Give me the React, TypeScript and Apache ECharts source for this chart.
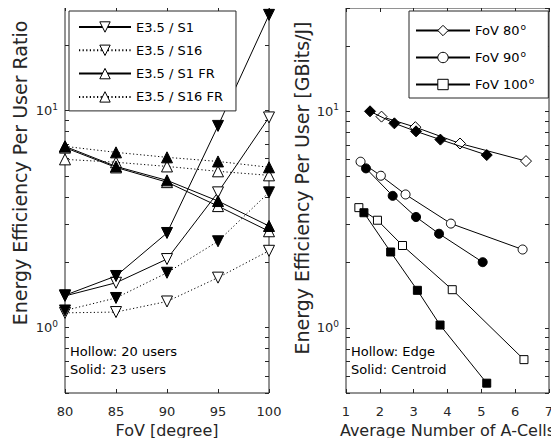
import React, { useEffect, useRef } from 'react';
import * as echarts from 'echarts';

// ---- Left panel data (FoV in degrees) ----
const fovX = [80, 85, 90, 95, 100];
const s1Hollow = [1.40, 1.61, 2.07, 4.2, 9.3];
const s1Solid = [1.41, 1.73, 2.73, 8.5, 27.6];
const s16Hollow = [1.17, 1.18, 1.32, 1.70, 2.26];
const s16Solid = [1.20, 1.37, 1.79, 2.50, 4.2];
const s1frHollow = [6.75, 5.47, 4.68, 3.63, 2.78];
const s1frSolid = [6.84, 5.53, 4.77, 3.83, 2.94];
const s16frHollow = [5.96, 5.78, 5.53, 5.25, 5.03];
const s16frSolid = [6.84, 6.42, 6.09, 5.83, 5.48];

// ---- Right panel data (average number of A-cells) ----
const f80HollowX = [2.05, 3.05, 4.37, 6.32];
const f80HollowY = [9.45, 8.45, 7.1, 5.89];
const f80SolidX = [1.71, 2.43, 3.07, 3.79, 5.16];
const f80SolidY = [10.0, 8.8, 8.08, 7.4, 6.28];
const f90HollowX = [1.43, 2.03, 2.76, 4.10, 6.22];
const f90HollowY = [5.85, 5.04, 4.13, 3.03, 2.30];
const f90SolidX = [1.59, 2.38, 3.07, 3.75, 5.04];
const f90SolidY = [5.45, 4.07, 3.25, 2.72, 2.01];
const f100HollowX = [1.38, 1.93, 2.67, 4.14, 6.26];
const f100HollowY = [3.59, 3.14, 2.40, 1.50, 0.713];
const f100SolidX = [1.53, 2.32, 3.11, 3.78, 5.16];
const f100SolidY = [3.40, 2.24, 1.49, 1.03, 0.555];

// ---- Ticks ----
const logTicks = [0.5, 0.6, 0.7, 0.8, 0.9, 1, 2, 3, 4, 5, 6, 7, 8, 9, 10, 20, 30];
const logLabels = [1, 10];
const leftLegend = ['E3.5 / S1', 'E3.5 / S16', 'E3.5 / S1 FR', 'E3.5 / S16 FR'];
const rightLegend = ['FoV 80', 'FoV 90', 'FoV 100'];

const FONT = 'DejaVu Sans';
const INK = '#262626';

function pts(xs: number[], ys: number[]) {
  return xs.map((x, i) => [x, ys[i]]);
}

function series(name: string, data: number[][], symbol: string, hollow: boolean, dotted: boolean, panel: number, size: number, rotate = 0) {
  return {
    type: 'line',
    name,
    data,
    xAxisIndex: panel * 2,
    yAxisIndex: panel * 2,
    symbol,
    symbolSize: size,
    symbolRotate: rotate,
    showAllSymbol: true,
    z: hollow ? 2 : 3,
    lineStyle: { color: '#000', width: 1, type: dotted ? [1.2, 2.4] : 'solid' },
    itemStyle: { color: hollow ? '#fff' : '#000', borderColor: '#000', borderWidth: 1 },
    emphasis: { disabled: true },
  };
}

function logAxis(grid: number, position: 'left' | 'right', labels: boolean) {
  return {
    type: 'log',
    logBase: 10,
    gridIndex: grid,
    position,
    min: 0.5,
    max: 30,
    axisLine: { show: false },
    splitLine: { show: false },
    axisTick: { show: true, inside: true, length: 4, customValues: logTicks, lineStyle: { color: INK } },
    axisLabel: {
      show: labels,
      customValues: logLabels,
      margin: 7,
      color: INK,
      formatter: (v: number) => (Math.abs(v - 1) < 1e-9 ? '{b|10}{s|0}' : '{b|10}{s|1}'),
      rich: {
        b: { fontSize: 13, fontFamily: FONT, color: INK },
        s: { fontSize: 9, fontFamily: FONT, color: INK, padding: [0, 0, 8, 0] },
      },
    },
  };
}

function xAxis(grid: number, position: 'top' | 'bottom', min: number, max: number, interval: number, labels: boolean, name?: string) {
  return {
    type: 'value',
    gridIndex: grid,
    position,
    min,
    max,
    interval,
    axisLine: { show: false },
    splitLine: { show: false },
    axisTick: { show: true, inside: true, length: 4, lineStyle: { color: INK } },
    axisLabel: { show: labels, margin: 12, fontSize: 13, fontFamily: FONT, color: INK },
    name: name || '',
    nameLocation: 'middle',
    nameGap: 28,
    nameTextStyle: { fontSize: 16, fontFamily: FONT, color: INK },
  };
}

export default function App() {
  const ref = useRef<HTMLDivElement>(null);
  useEffect(() => {
    if (!ref.current) return;
    const chart = echarts.init(ref.current, null, { renderer: 'svg' });
    const legendBase = {
      orient: 'vertical',
      backgroundColor: '#fff',
      borderColor: INK,
      borderWidth: 1,
      borderRadius: 0,
      itemHeight: 13,
      selectedMode: false,
      lineStyle: { inherit: true },
      itemStyle: { borderWidth: 1 },
      z: 10,
    };
    chart.setOption({
      animation: false,
      backgroundColor: '#fff',
      grid: [
        { left: 65, top: 7, width: 204, height: 386, show: true, borderColor: INK, borderWidth: 1, backgroundColor: 'transparent' },
        { left: 346, top: 8, width: 203, height: 385, show: true, borderColor: INK, borderWidth: 1, backgroundColor: 'transparent' },
      ],
      xAxis: [
        xAxis(0, 'bottom', 80, 100, 5, true, 'FoV [degree]'),
        xAxis(0, 'top', 80, 100, 5, false),
        xAxis(1, 'bottom', 1, 7, 1, true, 'Average Number of A-Cells'),
        xAxis(1, 'top', 1, 7, 1, false),
      ],
      yAxis: [logAxis(0, 'left', true), logAxis(0, 'right', false), logAxis(1, 'left', true), logAxis(1, 'right', false)],
      legend: [
        {
          ...legendBase,
          left: 69,
          top: 11,
          data: leftLegend,
          itemWidth: 52,
          itemGap: 10.3,
          padding: [9.5, 13, 7.5, 9],
          textStyle: { fontSize: 13, fontFamily: FONT, color: '#000' },
        },
        {
          ...legendBase,
          left: 409,
          top: 11,
          data: rightLegend,
          itemWidth: 54,
          itemGap: 12,
          padding: [11, 14, 7, 6],
          formatter: (n: string) => `{a|${n}}{s|o}`,
          textStyle: {
            fontSize: 13,
            fontFamily: FONT,
            color: '#000',
            rich: {
              a: { fontSize: 13, fontFamily: FONT, color: '#000' },
              s: { fontSize: 9, fontFamily: FONT, color: '#000', padding: [0, 0, 8, 1] },
            },
          },
        },
      ],
      series: [
        series('E3.5 / S1', pts(fovX, s1Hollow), 'triangle', true, false, 0, 11, 180),
        series('E3.5 / S16', pts(fovX, s16Hollow), 'triangle', true, true, 0, 11, 180),
        series('E3.5 / S1 FR', pts(fovX, s1frHollow), 'triangle', true, false, 0, 11),
        series('E3.5 / S16 FR', pts(fovX, s16frHollow), 'triangle', true, true, 0, 11),
        series('E3.5 / S1 (23 users)', pts(fovX, s1Solid), 'triangle', false, false, 0, 11, 180),
        series('E3.5 / S16 (23 users)', pts(fovX, s16Solid), 'triangle', false, true, 0, 11, 180),
        series('E3.5 / S1 FR (23 users)', pts(fovX, s1frSolid), 'triangle', false, false, 0, 11),
        series('E3.5 / S16 FR (23 users)', pts(fovX, s16frSolid), 'triangle', false, true, 0, 11),
        series('FoV 80', pts(f80HollowX, f80HollowY), 'diamond', true, false, 1, 11),
        series('FoV 90', pts(f90HollowX, f90HollowY), 'circle', true, false, 1, 9),
        series('FoV 100', pts(f100HollowX, f100HollowY), 'rect', true, false, 1, 8),
        series('FoV 80 Centroid', pts(f80SolidX, f80SolidY), 'diamond', false, false, 1, 11),
        series('FoV 90 Centroid', pts(f90SolidX, f90SolidY), 'circle', false, false, 1, 9),
        series('FoV 100 Centroid', pts(f100SolidX, f100SolidY), 'rect', false, false, 1, 8),
      ],
      graphic: [
        { type: 'text', x: 20, y: 173, rotation: Math.PI / 2, style: { text: 'Energy Efficiency Per User Ratio', fontSize: 19, fontFamily: FONT, fill: INK, align: 'center', verticalAlign: 'middle' } },
        { type: 'text', x: 302, y: 188, rotation: Math.PI / 2, style: { text: 'Energy Efficiency Per User [GBits/J]', fontSize: 19, fontFamily: FONT, fill: INK, align: 'center', verticalAlign: 'middle' } },
        { type: 'text', x: 70, y: 351, style: { text: 'Hollow: 20 users', fontSize: 13, fontFamily: FONT, fill: '#000', align: 'left', verticalAlign: 'middle' } },
        { type: 'text', x: 70, y: 369, style: { text: 'Solid: 23 users', fontSize: 13, fontFamily: FONT, fill: '#000', align: 'left', verticalAlign: 'middle' } },
        { type: 'text', x: 351, y: 351, style: { text: 'Hollow: Edge', fontSize: 13, fontFamily: FONT, fill: '#000', align: 'left', verticalAlign: 'middle' } },
        { type: 'text', x: 351, y: 369, style: { text: 'Solid: Centroid', fontSize: 13, fontFamily: FONT, fill: '#000', align: 'left', verticalAlign: 'middle' } },
      ],
    });
    return () => chart.dispose();
  }, []);
  return <div ref={ref} style={{ width: 559, height: 446, margin: -8 }} />;
}
